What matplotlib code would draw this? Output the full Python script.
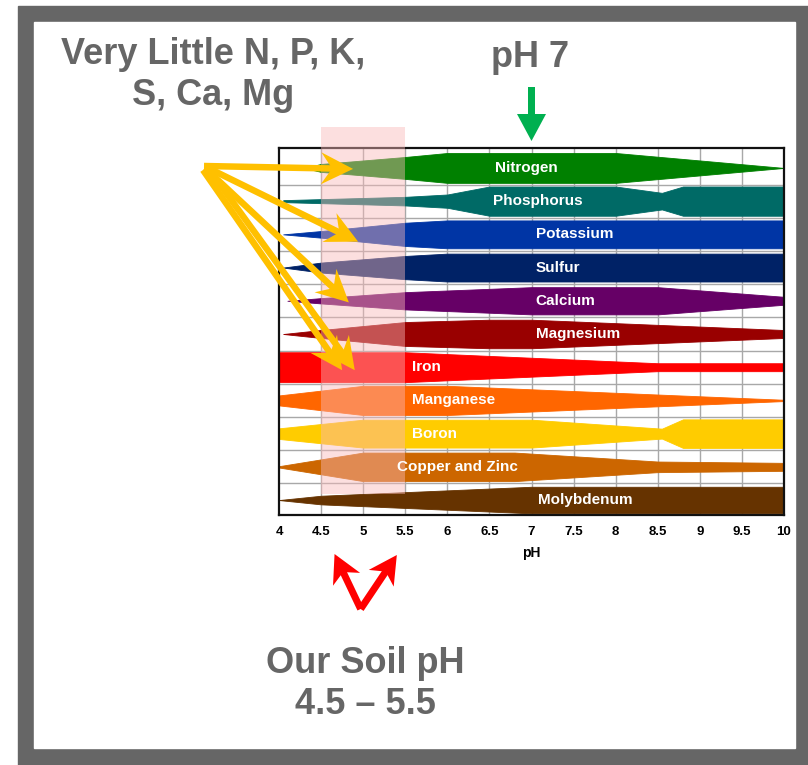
import numpy as np
import matplotlib
matplotlib.use("Agg")
import matplotlib.pyplot as plt
from matplotlib.patches import Polygon, Rectangle

# ---------------- data ----------------
nutrients = ["Nitrogen", "Phosphorus", "Potassium", "Sulfur", "Calcium", "Magnesium",
             "Iron", "Manganese", "Boron", "Copper and Zinc", "Molybdenum"]
colors = ["#008000", "#006a66", "#0035a5", "#002266", "#660066", "#990000",
          "#ff0000", "#ff6600", "#ffcc00", "#cc6600", "#663300"]

# pH break points of each band and the band half-width (availability) there
nitrogen_ph = [4.3, 4.5, 5.5, 6.0, 8.0, 10.0]
nitrogen_w = [0.0, 0.12, 0.33, 0.45, 0.45, 0.0]
phosphorus_ph = [4.05, 5.5, 6.0, 6.5, 8.0, 8.55, 8.8, 10.0]
phosphorus_w = [0.03, 0.13, 0.2, 0.44, 0.44, 0.25, 0.44, 0.44]
potassium_ph = [4.05, 4.5, 5.5, 6.0, 10.0]
potassium_w = [0.0, 0.1, 0.35, 0.42, 0.42]
sulfur_ph = [4.05, 4.5, 5.5, 6.0, 10.0]
sulfur_w = [0.0, 0.15, 0.35, 0.42, 0.42]
calcium_ph = [4.1, 4.5, 5.5, 7.0, 8.5, 10.0]
calcium_w = [0.0, 0.08, 0.26, 0.41, 0.41, 0.12]
magnesium_ph = [4.05, 4.5, 5.5, 6.5, 7.0, 10.0]
magnesium_w = [0.0, 0.12, 0.36, 0.43, 0.43, 0.12]
iron_ph = [4.0, 5.5, 8.5, 10.0]
iron_w = [0.45, 0.45, 0.12, 0.12]
manganese_ph = [4.0, 5.0, 6.0, 10.0]
manganese_w = [0.15, 0.44, 0.44, 0.02]
boron_ph = [4.0, 5.0, 7.0, 8.55, 8.8, 10.0]
boron_w = [0.16, 0.42, 0.42, 0.15, 0.43, 0.43]
copper_zinc_ph = [4.0, 5.0, 6.8, 8.5, 10.0]
copper_zinc_w = [0.02, 0.43, 0.43, 0.16, 0.12]
molybdenum_ph = [4.0, 4.5, 7.0, 10.0]
molybdenum_w = [0.0, 0.13, 0.4, 0.4]

band_ph = [nitrogen_ph, phosphorus_ph, potassium_ph, sulfur_ph, calcium_ph, magnesium_ph,
           iron_ph, manganese_ph, boron_ph, copper_zinc_ph, molybdenum_ph]
band_w = [nitrogen_w, phosphorus_w, potassium_w, sulfur_w, calcium_w, magnesium_w,
          iron_w, manganese_w, boron_w, copper_zinc_w, molybdenum_w]

x_ticks = [4, 4.5, 5, 5.5, 6, 6.5, 7, 7.5, 8, 8.5, 9, 9.5, 10]
x_tick_labels = ["4", "4.5", "5", "5.5", "6", "6.5", "7", "7.5", "8", "8.5", "9", "9.5", "10"]
soil_ph_range = [4.5, 5.5]

# label positions (left edge, pH)
label_ph = [6.57, 6.54, 7.05, 7.05, 7.05, 7.05, 5.58, 5.58, 5.58, 5.40, 7.08]

# ---------------- figure ----------------
W, H = 808, 765
fig = plt.figure(figsize=(W / 100, H / 100), dpi=100)

GRAY = "#666666"
bg = fig.add_axes([0, 0, 1, 1], zorder=0)
bg.set_xlim(0, W)
bg.set_ylim(H, 0)
bg.axis("off")
bg.add_patch(Rectangle((18, 6), 800, 762, color=GRAY))
bg.add_patch(Rectangle((34, 22), 761, 726, color="white"))

ax = fig.add_axes([279 / W, 1 - 515 / H, 505 / W, 367 / H], zorder=1)
ax.set_xlim(4, 10)
ax.set_ylim(10.45, -0.60)
ax.set_facecolor("white")

for xv in x_ticks[1:-1]:
    ax.axvline(xv, color="#a8a8a8", lw=1.0, zorder=1)
for k in range(len(nutrients) - 1):
    ax.axhline(k + 0.5, color="#a8a8a8", lw=1.0, zorder=1)

for i, (xs, ws, c) in enumerate(zip(band_ph, band_w, colors)):
    xs = np.asarray(xs, float)
    ws = np.asarray(ws, float)
    ax.fill_between(xs, i - ws, i + ws, facecolor=c, edgecolor=c, lw=0.6, zorder=2)

ax.add_patch(Rectangle((soil_ph_range[0], -1.23), soil_ph_range[1] - soil_ph_range[0], 11.05,
                       facecolor=(0.98, 0.72, 0.72), alpha=0.45, edgecolor="none",
                       zorder=3, clip_on=False))

for i, name in enumerate(nutrients):
    ax.text(label_ph[i], i, name, color="white", fontweight="bold", fontsize=11,
            family="Liberation Sans", va="center", ha="left", zorder=4)

ax.set_xticks(x_ticks)
ax.set_xticklabels(x_tick_labels, fontweight="bold", fontsize=9.5, family="Liberation Sans")
ax.set_yticks([])
ax.tick_params(axis="x", length=0, pad=8)
ax.set_xlabel("pH", fontweight="bold", fontsize=10, family="Liberation Sans", labelpad=6)
for s in ax.spines.values():
    s.set_linewidth(1.6)
    s.set_color("#111111")

# ---------------- overlay: annotations ----------------
ov = fig.add_axes([0, 0, 1, 1], zorder=2)
ov.set_xlim(0, W)
ov.set_ylim(H, 0)
ov.axis("off")
ov.patch.set_alpha(0)


def to_px(x, y):
    dx, dy = ax.transData.transform((x, y))
    return dx, H - dy


def arrow(x0, y0, x1, y1, w, hl, hw, notch, color):
    d = np.hypot(x1 - x0, y1 - y0)
    ux, uy = (x1 - x0) / d, (y1 - y0) / d
    nx, ny = -uy, ux
    bx, by = x1 - ux * hl, y1 - uy * hl
    mx, my = x1 - ux * (hl - notch), y1 - uy * (hl - notch)
    shaft = [(x0 + nx * w / 2, y0 + ny * w / 2), (mx + ux * 1 + nx * w / 2, my + uy * 1 + ny * w / 2),
             (mx + ux * 1 - nx * w / 2, my + uy * 1 - ny * w / 2), (x0 - nx * w / 2, y0 - ny * w / 2)]
    head = [(x1, y1), (bx + nx * hw, by + ny * hw), (mx, my), (bx - nx * hw, by - ny * hw)]
    ov.add_patch(Polygon(shaft, closed=True, facecolor=color, edgecolor="none", zorder=5))
    ov.add_patch(Polygon(head, closed=True, facecolor=color, edgecolor="none", zorder=5))


GOLD = "#ffc000"
gold_starts = [(204, 166), (206, 167), (205, 168), (203, 170), (208, 168)]
gold_targets = [(4.88, 0.03), (4.94, 2.22), (4.83, 4.05), (4.75, 6.09), (4.90, 6.09)]
for (sx, sy), (tx, ty) in zip(gold_starts, gold_targets):
    px, py = to_px(tx, ty)
    arrow(sx, sy, px, py, w=6.5, hl=32, hw=16, notch=11, color=GOLD)

# green arrow at pH 7
gx, _ = to_px(7.0, 0)
arrow(gx, 87, gx, 141, w=7, hl=27, hw=14.5, notch=0, color="#00b050")

# red arrows pointing at pH 4.5 and 5.5
lx, _ = to_px(4.66, 0)
rx, _ = to_px(5.40, 0)
cx, _ = to_px(4.97, 0)
arrow(cx, 609, lx, 554, w=7, hl=28, hw=15, notch=8, color="#ff0000")
arrow(cx, 609, rx, 555, w=7, hl=28, hw=15, notch=8, color="#ff0000")

ov.text(213, 75, "Very Little N, P, K,\nS, Ca, Mg", color=GRAY, fontsize=26, fontweight="bold",
        family="Liberation Sans", ha="center", va="center", multialignment="center", linespacing=1.25)
ov.text(530, 57, "pH 7", color=GRAY, fontsize=26, fontweight="bold",
        family="Liberation Sans", ha="center", va="center")
ov.text(365, 684, "Our Soil pH\n4.5 \u2013 5.5", color=GRAY, fontsize=26, fontweight="bold",
        family="Liberation Sans", ha="center", va="center", multialignment="center", linespacing=1.22)

fig.savefig("out.png", dpi=100)
